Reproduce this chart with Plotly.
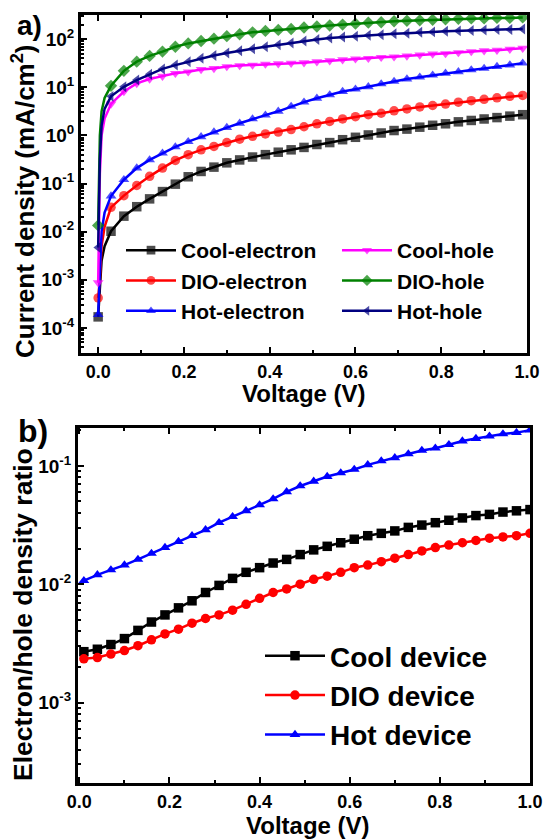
import plotly.graph_objects as go

# ---------------- data: panel a) ----------------
v_top = [0, 0.004, 0.008, 0.015, 0.03, 0.06, 0.09, 0.12, 0.15, 0.18, 0.21, 0.24, 0.27, 0.30,
         0.33, 0.36, 0.39, 0.42, 0.45, 0.48, 0.51, 0.54, 0.57, 0.60, 0.63, 0.66, 0.69,
         0.72, 0.75, 0.78, 0.81, 0.84, 0.87, 0.90, 0.93, 0.96, 0.99]
# points drawn with a symbol (1) or only as part of the line (0)
shown_top = [1, 0, 0, 0] + [1] * 33

cool_electron = [1.7e-4, 6.3e-4, 2.5e-3, 5.0e-3, 0.0102, 0.021, 0.033, 0.048, 0.068, 0.097, 0.138,
                 0.178, 0.219, 0.269, 0.309, 0.355, 0.398, 0.447, 0.501, 0.562, 0.646, 0.708,
                 0.813, 0.912, 1.02, 1.12, 1.26, 1.35, 1.48, 1.62, 1.74, 1.91, 2.04, 2.19,
                 2.34, 2.51, 2.69]
dio_electron = [4.2e-4, 1.0e-3, 5.0e-3, 0.0126, 0.032, 0.056, 0.091, 0.141, 0.209, 0.302, 0.398,
                0.501, 0.589, 0.708, 0.832, 0.955, 1.07, 1.17, 1.32, 1.51, 1.74, 1.95, 2.19,
                2.45, 2.69, 2.88, 3.24, 3.55, 3.89, 4.17, 4.47, 4.90, 5.25, 5.62, 6.03, 6.46, 6.76]
hot_electron = [1.9e-4, 1.6e-3, 0.010, 0.025, 0.055, 0.120, 0.209, 0.309, 0.427, 0.575, 0.741,
                0.933, 1.17, 1.45, 1.78, 2.19, 2.63, 3.16, 3.98, 4.90, 5.89, 6.92, 8.13, 9.12,
                10.2, 11.7, 13.2, 14.8, 16.2, 17.8, 19.5, 20.9, 22.9, 24.5, 26.9, 28.8, 31.6]
cool_hole = [8.7e-4, 0.16, 1.0, 2.24, 4.5, 8.13, 12.0, 14.8, 17.0, 19.5, 20.9, 23.4, 24.5, 26.9,
             28.2, 28.8, 30.2, 30.9, 31.6, 32.4, 33.9, 35.5, 37.2, 38.9, 39.8, 41.7, 42.7,
             44.7, 46.8, 49.0, 50.1, 52.5, 55.0, 57.5, 58.9, 61.7, 64.6]
dio_hole = [0.0135, 1.0, 3.16, 6.0, 10.7, 21.9, 33.9, 44.7, 55.0, 69.2, 81.3, 91.2, 102, 115,
            126, 138, 148, 155, 162, 174, 182, 191, 200, 209, 219, 224, 234, 240, 245, 251,
            257, 263, 269, 269, 275, 275, 282]
hot_hole = [4.7e-3, 0.32, 1.58, 3.55, 6.46, 10.2, 14.1, 18.6, 24.0, 28.8, 33.9, 39.8, 45.7, 51.3,
            57.5, 63.1, 69.2, 75.9, 83.2, 91.2, 97.7, 105, 110, 115, 120, 123, 129, 132, 138,
            141, 145, 148, 151, 155, 158, 158, 162]

# ---------------- data: panel b) ----------------
v_bot = [0.01, 0.04, 0.07, 0.10, 0.13, 0.16, 0.19, 0.22, 0.25, 0.28, 0.31, 0.34, 0.37, 0.40,
         0.43, 0.46, 0.49, 0.52, 0.55, 0.58, 0.61, 0.64, 0.67, 0.70, 0.73, 0.76, 0.79, 0.82,
         0.85, 0.88, 0.91, 0.94, 0.97, 1.00]
cool_ratio = [0.00269, 0.00282, 0.00309, 0.00347, 0.00407, 0.00479, 0.00550, 0.00631, 0.00724,
              0.00851, 0.00977, 0.0112, 0.0126, 0.0138, 0.0151, 0.0162, 0.0178, 0.0195, 0.0209,
              0.0224, 0.0240, 0.0257, 0.0269, 0.0282, 0.0302, 0.0316, 0.0331, 0.0347, 0.0363,
              0.0380, 0.0389, 0.0407, 0.0417, 0.0427]
dio_ratio = [0.00234, 0.00240, 0.00257, 0.00275, 0.00302, 0.00339, 0.00380, 0.00417, 0.00468,
             0.00513, 0.00550, 0.00603, 0.00676, 0.00759, 0.00851, 0.00912, 0.0100, 0.0110,
             0.0117, 0.0126, 0.0138, 0.0145, 0.0155, 0.0166, 0.0178, 0.0191, 0.0204, 0.0214,
             0.0224, 0.0234, 0.0245, 0.0251, 0.0257, 0.0269]
hot_ratio = [0.0107, 0.0120, 0.0132, 0.0145, 0.0162, 0.0182, 0.0204, 0.0229, 0.0257, 0.0288,
             0.0331, 0.0372, 0.0417, 0.0468, 0.0525, 0.0603, 0.0676, 0.0741, 0.0813, 0.0871,
             0.0933, 0.102, 0.110, 0.117, 0.126, 0.135, 0.141, 0.151, 0.162, 0.170, 0.178,
             0.186, 0.191, 0.200]

# ---------------- tick labels ----------------
top_yvals = [1e-4, 1e-3, 1e-2, 1e-1, 1, 10, 100]
top_ytext = ["10<sup>-4</sup>", "10<sup>-3</sup>", "10<sup>-2</sup>", "10<sup>-1</sup>",
             "10<sup>0</sup>", "10<sup>1</sup>", "10<sup>2</sup>"]
bot_yvals = [1e-3, 1e-2, 1e-1]
bot_ytext = ["10<sup>-3</sup>", "10<sup>-2</sup>", "10<sup>-1</sup>"]
x_vals = [0.0, 0.2, 0.4, 0.6, 0.8, 1.0]
x_text = ["0.0", "0.2", "0.4", "0.6", "0.8", "1.0"]

FONT = "Liberation Sans"
MS = 9.5

fig = go.Figure()

top_series = [
    ("Cool-electron", cool_electron, "black", "square", "legend"),
    ("DIO-electron", dio_electron, "#FF0000", "circle", "legend"),
    ("Hot-electron", hot_electron, "#0000FF", "triangle-up", "legend"),
    ("Cool-hole", cool_hole, "#FF00FF", "triangle-down", "legend2"),
    ("DIO-hole", dio_hole, "#008000", "diamond", "legend2"),
    ("Hot-hole", hot_hole, "#000080", "triangle-left", "legend2"),
]
for name, ys, col, sym, leg in top_series:
    fig.add_trace(go.Scatter(
        x=v_top, y=ys, name=name, mode="lines+markers",
        line=dict(color=col, width=2.5),
        marker=dict(symbol=sym, color=col, size=[MS * s for s in shown_top], line=dict(width=0)),
        xaxis="x", yaxis="y", legend=leg, legendgroup=name))

bot_series = [
    ("Cool device", cool_ratio, "black", "square"),
    ("DIO device", dio_ratio, "#FF0000", "circle"),
    ("Hot device", hot_ratio, "#0000FF", "triangle-up"),
]
for name, ys, col, sym in bot_series:
    fig.add_trace(go.Scatter(
        x=v_bot, y=ys, name=name, mode="lines+markers",
        line=dict(color=col, width=2.5),
        marker=dict(symbol=sym, color=col, size=MS, line=dict(width=0)),
        xaxis="x2", yaxis="y2", legend="legend3", legendgroup=name))

W, H = 544, 840
def px(x):
    return x / W
def py(y):
    return 1 - y / H

tickfont = dict(family=FONT, size=18, color="black", weight="bold")
xaxis_common = dict(
    tickmode="array", tickvals=x_vals, ticktext=x_text, automargin=False,
    ticks="inside", ticklen=6, tickwidth=2, tickcolor="black",
    minor=dict(ticks="inside", ticklen=3, tickwidth=2, tickcolor="black", dtick=0.1, showgrid=False),
    showline=True, linewidth=3, linecolor="black", mirror="ticks",
    showgrid=False, zeroline=False, tickfont=tickfont,
)
yaxis_common = dict(
    type="log", tickmode="array", automargin=False,
    ticks="inside", ticklen=6, tickwidth=2, tickcolor="black",
    minor=dict(ticks="inside", ticklen=3, tickwidth=1.5, tickcolor="black", dtick="D1", showgrid=False),
    showline=True, linewidth=3, linecolor="black", mirror=True,
    showgrid=False, zeroline=False, tickfont=dict(family=FONT, size=19, color="black", weight="bold"),
)

fig.update_layout(
    width=W, height=H, margin=dict(l=0, r=0, t=0, b=0, autoexpand=False),
    plot_bgcolor="white", paper_bgcolor="white",
    font=dict(family=FONT, color="black"),
    xaxis=dict(domain=[px(81), px(527)], range=[-0.04, 1.0], anchor="y", **xaxis_common),
    yaxis=dict(domain=[py(353), py(15)], range=[-4.52, 2.5], anchor="x",
               tickvals=top_yvals, ticktext=top_ytext, **yaxis_common),
    xaxis2=dict(domain=[px(78), px(530)], range=[-0.003, 1.0], anchor="y2", **xaxis_common),
    yaxis2=dict(domain=[py(783), py(428)], range=[-3.68, -0.68], anchor="x2",
                tickvals=bot_yvals, ticktext=bot_ytext, **yaxis_common),
    legend=dict(x=px(121), y=py(230), xanchor="left", yanchor="top", bgcolor="rgba(0,0,0,0)",
                font=dict(family=FONT, size=21, color="black", weight="bold"),
                tracegroupgap=0, itemwidth=50),
    legend2=dict(x=px(337), y=py(230), xanchor="left", yanchor="top", bgcolor="rgba(0,0,0,0)",
                 font=dict(family=FONT, size=21, color="black", weight="bold"),
                 tracegroupgap=0, itemwidth=50),
    legend3=dict(x=px(260), y=py(631), xanchor="left", yanchor="top", bgcolor="rgba(0,0,0,0)",
                 font=dict(family=FONT, size=28, color="black", weight="bold"),
                 tracegroupgap=0, itemwidth=60),
    showlegend=True,
)

ann_font = lambda s: dict(family=FONT, size=s, color="black", weight="bold")
fig.add_annotation(text="Current density (mA/cm<sup>2</sup>)", x=px(23), y=py(201), xref="paper", yref="paper",
                   textangle=-90, showarrow=False, font=ann_font(26), xanchor="center", yanchor="middle")
fig.add_annotation(text="Voltage (V)", x=px(304), y=py(393), xref="paper", yref="paper",
                   showarrow=False, font=ann_font(24), xanchor="center", yanchor="middle")
fig.add_annotation(text="Electron/hole density ratio", x=px(23), y=py(615), xref="paper", yref="paper",
                   textangle=-90, showarrow=False, font=ann_font(26.5), xanchor="center", yanchor="middle")
fig.add_annotation(text="Voltage (V)", x=px(308), y=py(825), xref="paper", yref="paper",
                   showarrow=False, font=ann_font(24), xanchor="center", yanchor="middle")
fig.add_annotation(text="a)", x=px(29), y=py(25), xref="paper", yref="paper",
                   showarrow=False, font=ann_font(28), xanchor="center", yanchor="middle")
fig.add_annotation(text="b)", x=px(33), y=py(431), xref="paper", yref="paper",
                   showarrow=False, font=ann_font(32), xanchor="center", yanchor="middle")

fig.write_html("out.html", post_script="document.body.style.margin='0';",
               config={"displayModeBar": False})
